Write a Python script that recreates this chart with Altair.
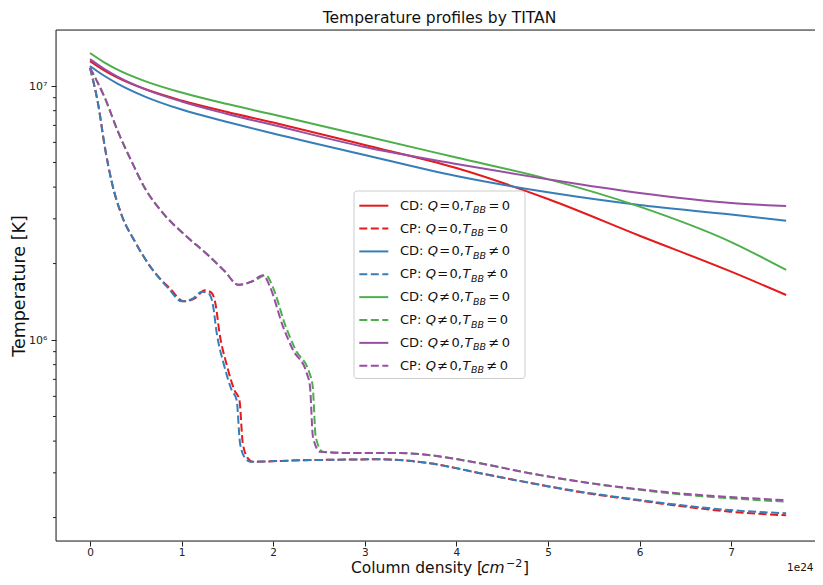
import altair as alt
import pandas as pd

FONT = "DejaVu Sans"

# ---------------- data (x in units of 1e24 cm^-2, T in K) ----------------
cd_x = [0, 0.15, 0.3, 0.6, 1, 1.5, 2, 3, 4, 5, 6, 7, 7.6]
cd_q0_tbb0 = [1.254e7, 1.156e7, 1.080e7, 9.73e6, 8.77e6, 7.90e6, 7.18e6, 5.86e6, 4.755e6, 3.59e6, 2.574e6, 1.858e6, 1.504e6]
cd_q0_tbb1 = [1.199e7, 1.100e7, 1.023e7, 9.09e6, 8.08e6, 7.22e6, 6.50e6, 5.35e6, 4.42e6, 3.815e6, 3.40e6, 3.12e6, 2.95e6]
cd_q1_tbb0 = [1.349e7, 1.243e7, 1.161e7, 1.046e7, 9.43e6, 8.49e6, 7.72e6, 6.36e6, 5.23e6, 4.30e6, 3.35e6, 2.43e6, 1.887e6]
cd_q1_tbb1 = [1.277e7, 1.172e7, 1.090e7, 9.73e6, 8.69e6, 7.76e6, 7.02e6, 5.75e6, 4.93e6, 4.29e6, 3.79e6, 3.46e6, 3.37e6]

cp_q0_tbb0_x = [0, 0.091, 0.164, 0.237, 0.346, 0.491, 0.674, 0.87, 1.025, 1.145, 1.255, 1.33,
                1.373, 1.413, 1.493, 1.577, 1.631, 1.668, 1.722, 1.777, 2.293, 3.166, 3.712,
                4.258, 4.80, 5.349, 5.90, 6.441, 6.987, 7.60]
cp_q0_tbb0 = [1.18e7, 8.41e6, 5.70e6, 4.20e6, 3.10e6, 2.44e6, 1.91e6, 1.60e6, 1.42e6, 1.46e6,
              1.57e6, 1.53e6, 1.37e6, 1.07e6, 7.98e5, 6.35e5, 5.81e5, 3.93e5, 3.43e5, 3.32e5,
              3.36e5, 3.39e5, 3.27e5, 2.99e5, 2.74e5, 2.52e5, 2.36e5, 2.22e5, 2.11e5, 2.04e5]
cp_q0_tbb1_x = [0, 0.091, 0.164, 0.237, 0.346, 0.491, 0.674, 0.855, 1.001, 1.114, 1.223, 1.30,
                1.343, 1.383, 1.463, 1.547, 1.601, 1.638, 1.692, 1.747, 2.293, 3.166, 3.712,
                4.258, 4.80, 5.349, 5.90, 6.441, 6.987, 7.60]
cp_q0_tbb1 = [1.18e7, 8.41e6, 5.70e6, 4.20e6, 3.10e6, 2.44e6, 1.91e6, 1.60e6, 1.42e6, 1.45e6,
              1.55e6, 1.52e6, 1.37e6, 1.07e6, 7.98e5, 6.35e5, 5.81e5, 3.93e5, 3.43e5, 3.32e5,
              3.36e5, 3.39e5, 3.27e5, 2.99e5, 2.74e5, 2.53e5, 2.37e5, 2.24e5, 2.14e5, 2.08e5]
cp_q1_tbb0_x = [0, 0.164, 0.306, 0.455, 0.600, 0.783, 1.037, 1.288, 1.474, 1.62, 1.79, 1.92,
                1.995, 2.137, 2.246, 2.396, 2.432, 2.464, 2.541, 2.858, 3.384, 3.712, 4.258,
                4.80, 5.349, 5.895, 6.441, 6.99, 7.60]
cp_q1_tbb0 = [1.18e7, 8.95e6, 6.61e6, 5.04e6, 3.96e6, 3.20e6, 2.59e6, 2.16e6, 1.86e6, 1.65e6,
              1.71e6, 1.80e6, 1.62e6, 1.13e6, 9.14e5, 7.41e5, 6.55e5, 4.16e5, 3.63e5, 3.59e5,
              3.59e5, 3.52e5, 3.27e5, 2.99e5, 2.77e5, 2.60e5, 2.47e5, 2.38e5, 2.31e5]
cp_q1_tbb1_x = [0, 0.164, 0.306, 0.455, 0.600, 0.783, 1.037, 1.288, 1.474, 1.616, 1.765, 1.892,
                1.965, 2.107, 2.216, 2.366, 2.402, 2.434, 2.511, 2.838, 3.384, 3.712, 4.258,
                4.80, 5.349, 5.895, 6.441, 6.99, 7.60]
cp_q1_tbb1 = [1.18e7, 8.95e6, 6.61e6, 5.04e6, 3.96e6, 3.20e6, 2.59e6, 2.16e6, 1.86e6, 1.65e6,
              1.70e6, 1.80e6, 1.62e6, 1.13e6, 9.14e5, 7.41e5, 6.55e5, 4.16e5, 3.63e5, 3.59e5,
              3.59e5, 3.52e5, 3.27e5, 2.99e5, 2.77e5, 2.61e5, 2.49e5, 2.41e5, 2.34e5]

x_ticks = [0, 1, 2, 3, 4, 5, 6, 7]
y_major = [1e6, 1e7]
y_minor = [2e5, 3e5, 4e5, 5e5, 6e5, 7e5, 8e5, 9e5, 2e6, 3e6, 4e6, 5e6, 6e6, 7e6, 8e6, 9e6]

legend_kind = ["CD", "CP", "CD", "CP", "CD", "CP", "CD", "CP"]
legend_q_op = ["=", "=", "=", "=", "≠", "≠", "≠", "≠"]
legend_t_op = ["=", "=", "≠", "≠", "=", "=", "≠", "≠"]

RED, BLUE, GREEN, PURPLE = "#e41a1c", "#377eb8", "#4daf4a", "#984ea3"
series = [
    (cd_x, cd_q0_tbb0, RED, False),
    (cp_q0_tbb0_x, cp_q0_tbb0, RED, True),
    (cd_x, cd_q0_tbb1, BLUE, False),
    (cp_q0_tbb1_x, cp_q0_tbb1, BLUE, True),
    (cd_x, cd_q1_tbb0, GREEN, False),
    (cp_q1_tbb0_x, cp_q1_tbb0, GREEN, True),
    (cd_x, cd_q1_tbb1, PURPLE, False),
    (cp_q1_tbb1_x, cp_q1_tbb1, PURPLE, True),
]

# ---------------- scales / axes ----------------
# whole chart must fit inside the 823x585 window (8px page margin on each side)
W, H = 759, 511
xscale = alt.Scale(domain=[-0.371e24, 7.915e24], nice=False, zero=False)
yscale = alt.Scale(type="log", domain=[1.617e5, 1.662e7], nice=False)

xaxis = alt.Axis(values=[v * 1e24 for v in x_ticks],
                 labelExpr="format(datum.value / 1e24, '.0f')",
                 title=None, grid=False, domain=False, ticks=True, tickSize=5,
                 tickColor="#222", labelColor="#222", labelFont=FONT,
                 labelFontSize=10.5, labelPadding=1)
yaxis = alt.Axis(values=y_major,
                 labelExpr="datum.value > 5e6 ? '10⁷' : '10⁶'",
                 title=None, grid=False, domain=False, ticks=True, tickSize=5,
                 tickColor="#222", labelColor="#222", labelFont=FONT,
                 labelFontSize=11, labelPadding=4)

layers = []

# plot frame: left, top and bottom spines (right spine lies beyond the picture edge)
one = pd.DataFrame({"a": [0]})
layers.append(alt.Chart(one).mark_rule(color="#222", strokeWidth=1).encode(
    x=alt.value(0), y=alt.value(0), y2=alt.value(H)))
layers.append(alt.Chart(one).mark_rule(color="#222", strokeWidth=1).encode(
    x=alt.value(0), x2=alt.value(W), y=alt.value(0)))
layers.append(alt.Chart(one).mark_rule(color="#222", strokeWidth=1).encode(
    x=alt.value(0), x2=alt.value(W), y=alt.value(H)))

# minor log ticks on the y axis
minor_df = pd.DataFrame({"x": [0.0] * len(y_minor), "T": y_minor})
layers.append(
    alt.Chart(minor_df).mark_rule(color="#222", strokeWidth=1).encode(
        y=alt.Y("T:Q", scale=yscale, axis=yaxis),
        x=alt.value(-3), x2=alt.value(0)
    )
)

for xs, ys, color, dashed in series:
    df = pd.DataFrame({"x": [v * 1e24 for v in xs], "T": ys})
    kw = dict(color=color, strokeWidth=2, interpolate="monotone")
    if dashed:
        kw["strokeDash"] = [8, 3.5]
    layers.append(
        alt.Chart(df).mark_line(**kw).encode(
            x=alt.X("x:Q", scale=xscale, axis=xaxis),
            y=alt.Y("T:Q", scale=yscale, axis=yaxis),
        )
    )

# ---------------- legend (built by hand for mixed italic / subscript text) ----------------
row_y = [175.7 + 22.86 * i for i in range(8)]
box = alt.Chart(one).mark_rect(
    fill="white", fillOpacity=0.85, stroke="#cccccc", strokeWidth=1, cornerRadius=3
).encode(x=alt.value(298), x2=alt.value(469), y=alt.value(161), y2=alt.value(348.5))
layers.append(box)

colors_list = [s[2] for s in series]
for dashed in (False, True):
    rows = [i for i in range(8) if series[i][3] == dashed]
    sdf = pd.DataFrame({
        "x1": [303.3] * len(rows), "x2": [332.3] * len(rows),
        "y": [row_y[i] for i in rows], "c": [colors_list[i] for i in rows],
    })
    kw = dict(strokeWidth=2)
    if dashed:
        kw["strokeDash"] = [8, 3.5]
    layers.append(
        alt.Chart(sdf).mark_rule(**kw).encode(
            x=alt.X("x1:Q", scale=None, axis=None), x2="x2:Q",
            y=alt.Y("y:Q", scale=None, axis=None),
            color=alt.Color("c:N", scale=None, legend=None),
        )
    )

normal_rows, italic_rows, sub_rows = [], [], []
for i in range(8):
    y = row_y[i]
    off = 0 if legend_kind[i] == "CD" else -2
    normal_rows.append({"px": 344, "py": y, "t": legend_kind[i] + ":"})
    italic_rows.append({"px": 371.7 + off, "py": y, "t": "Q"})
    normal_rows.append({"px": 383.3 + off, "py": y, "t": legend_q_op[i]})
    normal_rows.append({"px": 395.5 + off, "py": y, "t": "0,"})
    italic_rows.append({"px": 408.5 + off, "py": y, "t": "T"})
    sub_rows.append({"px": 417.0 + off, "py": y + 4.5, "t": "BB"})
    normal_rows.append({"px": 432.5 + off, "py": y, "t": legend_t_op[i]})
    normal_rows.append({"px": 445.7 + off, "py": y, "t": "0"})


def text_layer(rows, size, style="normal", baseline="middle", angle=0, align="left"):
    mk = dict(align=align, baseline=baseline, font=FONT, fontSize=size,
              fontStyle=style, color="#111")
    if angle:
        mk["angle"] = angle
    return alt.Chart(pd.DataFrame(rows)).mark_text(**mk).encode(
        x=alt.X("px:Q", scale=None, axis=None),
        y=alt.Y("py:Q", scale=None, axis=None),
        text="t:N",
    )


layers.append(text_layer(normal_rows, 13))
layers.append(text_layer(italic_rows, 13, "italic"))
layers.append(text_layer(sub_rows, 9.5, "italic"))

# ---------------- axis titles (with italic unit) and offset text ----------------
yt = [{"px": -36, "py": 256, "t": "Temperature [K]"}]
xt_normal = [{"px": 295, "py": 543.2, "t": "Column density ["}, {"px": 467, "py": 543.2, "t": "]"}]
xt_italic = [{"px": 425, "py": 543.2, "t": "cm"}]
xt_sup = [{"px": 450, "py": 536.5, "t": "−2"}]
off_text = [{"px": 731, "py": 538, "t": "1e24"}]

layers.append(text_layer(yt, 17.5, angle=270, align="center"))
layers.append(text_layer(xt_normal, 15.5, baseline="alphabetic"))
layers.append(text_layer(xt_italic, 15.5, "italic", baseline="alphabetic"))
layers.append(text_layer(xt_sup, 11, baseline="alphabetic"))
layers.append(text_layer(off_text, 10.5))

chart = alt.layer(*layers).properties(
    width=W, height=H,
    title=alt.TitleParams("Temperature profiles by TITAN", font=FONT, fontSize=15.5,
                          fontWeight="normal", color="#111", offset=3,
                          anchor="middle", frame="group", dx=4),
    padding={"left": 48, "top": 22, "right": 0, "bottom": 36},
    autosize=alt.AutoSizeParams(type="none"),
).configure_view(
    stroke=None
).configure(background="white")

chart.save("out.html", embed_options={"renderer": "svg", "actions": False})
